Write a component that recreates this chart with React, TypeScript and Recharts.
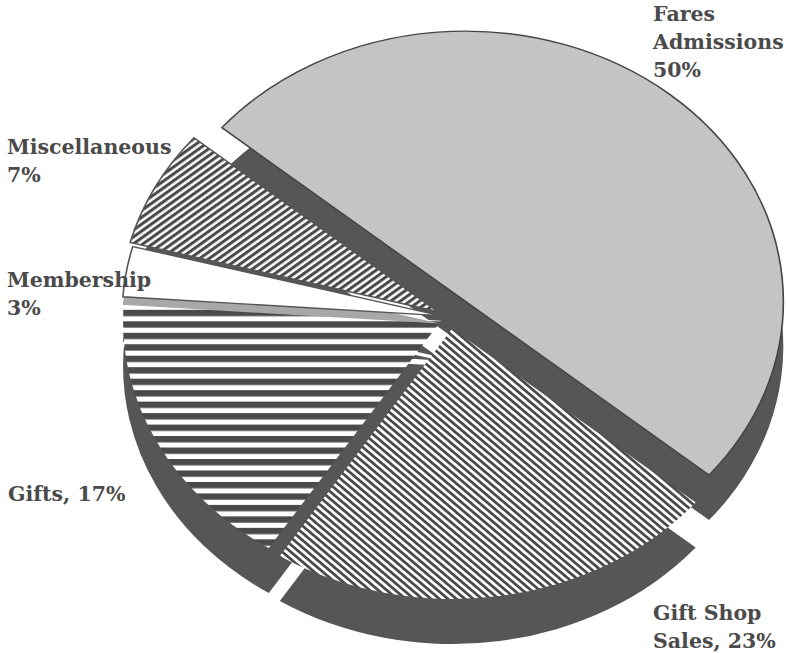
import React from 'react';
import { PieChart, Pie, Cell } from 'recharts';

// revenue split
const categories = ['Fares Admissions', 'Gift Shop Sales', 'Gifts', 'Membership', 'Miscellaneous'];
const shares = [50, 23, 17, 3, 7];
const labelLines = [
  ['Fares', 'Admissions', '50%'],
  ['Gift Shop', 'Sales, 23%'],
  ['Gifts, 17%'],
  ['Membership', '3%'],
  ['Miscellaneous', '7%'],
];

const W = 786;
const H = 653;
const SQUASH = 0.85; // the printed pie is tilted, so it is an ellipse
const R = 318;
const CENTER = { x: 450, y: 317 / SQUASH };
const DEPTH = 45 / SQUASH;
const START = 140;

const explode = [24, 14, 10, 10, 14];
const faceFill = ['#c4c4c4', 'url(#hatchGiftShop)', 'url(#hatchGifts)', '#ffffff', 'url(#hatchMisc)'];
const SIDE = '#565656';
const INK = '#4a4a4a';

const labelPos = [
  { x: 653, y: 21 },
  { x: 653, y: 620 },
  { x: 8, y: 501 },
  { x: 7, y: 287 },
  { x: 7, y: 154 },
];

const data = categories.map((name, i) => ({ name, value: shares[i] }));
const total = shares.reduce((a, b) => a + b, 0);

// mid angle of each slice, going clockwise from START like the Pie does
const mids = shares.map((v, i) => {
  const before = shares.slice(0, i).reduce((a, b) => a + b, 0);
  return START - ((before + v / 2) / total) * 360;
});
const centers = mids.map((m, i) => ({
  x: CENTER.x + explode[i] * Math.cos((m * Math.PI) / 180),
  y: CENTER.y - explode[i] * Math.sin((m * Math.PI) / 180),
}));

function sliceLayer(i: number, dy: number, fill: string, stroke: string, key: string) {
  return (
    <Pie
      key={key}
      data={data}
      dataKey="value"
      nameKey="name"
      cx={centers[i].x}
      cy={centers[i].y + dy}
      innerRadius={0}
      outerRadius={R}
      startAngle={START}
      endAngle={START - 360}
      paddingAngle={0}
      label={false}
      labelLine={false}
      isAnimationActive={false}
    >
      {data.map((d, j) => (
        <Cell
          key={d.name}
          fill={j === i ? fill : 'none'}
          stroke={j === i ? stroke : 'none'}
          strokeWidth={1.6}
        />
      ))}
    </Pie>
  );
}

export default function App() {
  return (
    <div style={{ position: 'absolute', left: 0, top: 0, width: W, height: H, overflow: 'hidden', background: '#fff' }}>
      <div style={{ transform: `scaleY(${SQUASH})`, transformOrigin: '0 0' }}>
        <PieChart width={W} height={Math.round(H / SQUASH)} margin={{ top: 0, right: 0, bottom: 0, left: 0 }}>
          <defs>
            <pattern id="hatchGifts" patternUnits="userSpaceOnUse" width={10} height={13.5}>
              <rect width={10} height={13.5} fill="#fff" />
              <rect width={10} height={7.5} fill={INK} />
            </pattern>
            <pattern id="hatchGiftShop" patternUnits="userSpaceOnUse" width={10} height={6} patternTransform="rotate(45)">
              <rect width={10} height={6} fill="#fff" />
              <rect width={10} height={3} fill={INK} />
            </pattern>
            <pattern id="hatchMisc" patternUnits="userSpaceOnUse" width={10} height={6.2} patternTransform="rotate(-40)">
              <rect width={10} height={6.2} fill="#fff" />
              <rect width={10} height={3.4} fill={INK} />
            </pattern>
          </defs>
          {shares.map((_, i) => sliceLayer(i, DEPTH, SIDE, 'none', `side-${i}`))}
          {sliceLayer(0, 0, faceFill[0], '#444', 'face-0')}
          {sliceLayer(1, 0, faceFill[1], 'none', 'face-1')}
          {sliceLayer(2, 0, faceFill[2], 'none', 'face-2')}
          {sliceLayer(3, 8 / SQUASH, '#a8a8a8', 'none', 'edge-3')}
          {sliceLayer(3, 0, faceFill[3], '#555', 'face-3')}
          {sliceLayer(4, 0, faceFill[4], '#555', 'face-4')}
        </PieChart>
      </div>
      <svg width={W} height={H} style={{ position: 'absolute', left: 0, top: 0, pointerEvents: 'none' }}>
        {labelLines.map((lines, i) => (
          <text
            key={categories[i]}
            x={labelPos[i].x}
            y={labelPos[i].y}
            fill={INK}
            fontFamily="'DejaVu Serif', serif"
            fontWeight="bold"
            fontSize={20.5}
          >
            {lines.map((line, k) => (
              <tspan key={line} x={labelPos[i].x} dy={k === 0 ? 0 : 28}>
                {line}
              </tspan>
            ))}
          </text>
        ))}
      </svg>
    </div>
  );
}
